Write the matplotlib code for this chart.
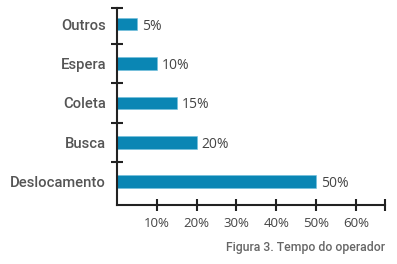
import numpy as np
import matplotlib.pyplot as plt

# data
Categorias = ['Deslocamento', 'Busca', 'Coleta', 'Espera', 'Outros']
Tempo = [50, 20, 15, 10, 5]
X_ticks = [10, 20, 30, 40, 50, 60]
Titulo = 'Figura 3. Tempo do operador'

label_font = ['Roboto', 'DejaVu Sans']
value_font = ['Open Sans', 'DejaVu Sans']
bar_color = '#0a86b4'

fig = plt.figure(figsize=(3.97, 2.64), dpi=100)
ax = fig.add_axes([0.2947, 0.2235, 0.6751, 0.7462])

y = np.arange(len(Categorias))
ax.barh(y, Tempo, height=0.32, color=bar_color, edgecolor='#6fc0dd', linewidth=0.4, zorder=2)

for yi, v in zip(y, Tempo):
    ax.text(v + 1.3, yi - 0.05, f'{v}%', va='center', ha='left',
            fontsize=10, color='#444444', family=value_font)

x_end = 67.3
ax.set_xlim(0, x_end)
ax.set_ylim(-0.59, 4.41)

for s in ['top', 'right']:
    ax.spines[s].set_visible(False)
for s in ['left', 'bottom']:
    ax.spines[s].set_linewidth(1.5)
    ax.spines[s].set_color('#222222')

# x ticks
ax.set_xticks(X_ticks, [f'{t}%' for t in X_ticks])
ax.set_xticks([x_end], minor=True)
ax.tick_params(axis='x', which='both', direction='inout', length=8, width=1.5,
               color='#222222', pad=5, labelsize=9.5, labelcolor='#444444')
for lb in ax.get_xticklabels():
    lb.set_family(value_font)

# y ticks: boundaries (major) and category labels (minor)
ax.set_yticks(list(y[:-1] + 0.5) + [4.41], [''] * len(Categorias))
ax.set_yticks(y, Categorias, minor=True)
ax.tick_params(axis='y', which='major', direction='inout', length=8, width=1.5, color='#222222')
ax.tick_params(axis='y', which='minor', length=0, pad=8, labelsize=10.6, labelcolor='#555555')
for lb in ax.get_yticklabels(minor=True):
    lb.set_family(label_font)
    lb.set_fontweight('medium')

fig.text(385 / 397, 1 - 248 / 264, Titulo, ha='right', va='center', fontsize=8.8,
         color='#666666', family=label_font, fontweight='medium')

fig.savefig('out.png', dpi=100)
